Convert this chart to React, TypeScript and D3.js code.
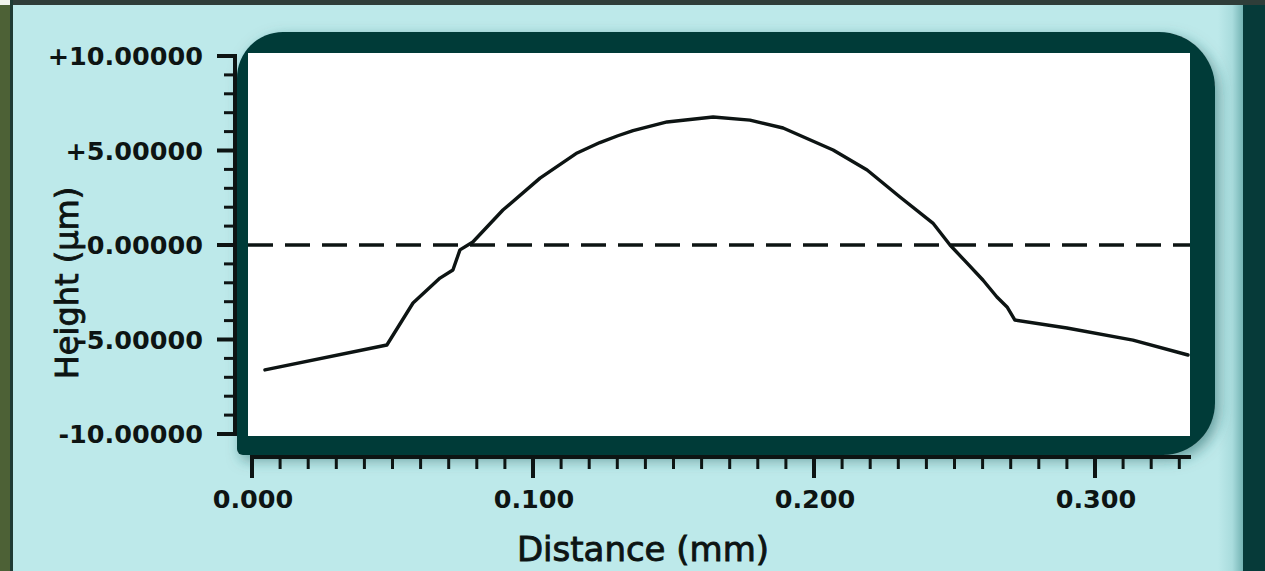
import * as d3 from 'd3'

// Profile trace (distance in mm, height in µm)
const distance = [
  0.0046, 0.0480, 0.0573, 0.0669, 0.0715, 0.0740, 0.0786, 0.0893, 0.1025, 0.1157,
  0.1238, 0.1302, 0.1356, 0.1477, 0.1641, 0.1772, 0.1890, 0.2068, 0.2189, 0.2306,
  0.2423, 0.2484, 0.2544, 0.2601, 0.2651, 0.2687, 0.2715, 0.2900, 0.3135, 0.3331,
]
const height = [
  -6.61, -5.29, -3.07, -1.75, -1.32, -0.26, 0.16, 1.85, 3.54, 4.87,
  5.42, 5.78, 6.05, 6.51, 6.77, 6.61, 6.19, 5.03, 3.97, 2.54,
  1.16, 0.00, -0.95, -1.85, -2.75, -3.28, -3.97, -4.39, -5.03, -5.82,
]

const yTicks = [10, 5, 0, -5, -10]
const yTickLabels = ['+10.00000', '+5.00000', '0.00000', '-5.00000', '-10.00000']
const xTicks = [0, 0.1, 0.2, 0.3]
const xTickLabels = ['0.000', '0.100', '0.200', '0.300']
const xTitle = 'Distance (mm)'
const yTitle = 'Height (µm)'

const W = 1265
const H = 571
const BG = '#bde9ea'
const DARK = '#063a39'
const INK = '#0d1413'
const FONT = 'DejaVu Sans, Verdana, sans-serif'

// plot box (white area) and frame
const PLOT = { left: 248, top: 53, right: 1190, bottom: 436 }
const FRAME = { left: 237, top: 32, right: 1215, bottom: 455 }

function framePath(x0: number, y0: number, x1: number, y1: number) {
  const rTL = 46, rTR = 56, rBR = 52, rBL = 6
  const p = d3.path()
  p.moveTo(x0 + rTL, y0)
  p.lineTo(x1 - rTR, y0)
  p.arcTo(x1, y0, x1, y0 + rTR, rTR)
  p.lineTo(x1, y1 - rBR)
  p.arcTo(x1, y1, x1 - rBR, y1, rBR)
  p.lineTo(x0 + rBL, y1)
  p.arcTo(x0, y1, x0, y1 - rBL, rBL)
  p.lineTo(x0, y0 + rTL)
  p.arcTo(x0, y0, x0 + rTL, y0, rTL)
  p.closePath()
  return p.toString()
}

export default function App() {
  const x = d3.scaleLinear().domain([0, 0.3]).range([252, 1095])
  const y = d3.scaleLinear().domain([-10, 10]).range([434, 56])

  const xAxisY = 457
  const yAxisX = 235

  const xMinor = d3.range(0, 0.3305, 0.01)
  const yMinor = d3.range(-10, 10.001, 1)

  const line = d3.line<number>()
    .x((_, i) => x(distance[i]))
    .y(d => y(d))

  return (
    <div style={{ position: 'absolute', left: 0, top: 0, width: W, height: H }}>
      <svg width={W} height={H} style={{ display: 'block' }}>
        <defs>
          <filter id="frame-shadow" x="-10%" y="-20%" width="120%" height="140%">
            <feDropShadow dx={4} dy={5} stdDeviation={7} floodColor="#1d5e60" floodOpacity={0.55} />
          </filter>
          <linearGradient id="right-fade" x1="0%" y1="0%" x2="100%" y2="0%">
            <stop offset="0%" stopColor={BG} />
            <stop offset="55%" stopColor="#a9dcdd" />
            <stop offset="100%" stopColor="#6fb0b0" />
          </linearGradient>
          <clipPath id="plot-clip">
            <rect x={PLOT.left} y={PLOT.top} width={PLOT.right - PLOT.left} height={PLOT.bottom - PLOT.top} />
          </clipPath>
        </defs>

        {/* background and window edges */}
        <rect x={0} y={0} width={W} height={H} fill={BG} />
        <rect x={1218} y={0} width={26} height={H} fill="url(#right-fade)" />
        <rect x={1243} y={0} width={22} height={H} fill={DARK} />
        <rect x={0} y={0} width={W} height={5} fill="#2f3d39" />
        <rect x={0} y={0} width={10} height={H} fill="#4d6136" />
        <rect x={10} y={0} width={3} height={H} fill="#1f3b34" />
        <rect x={0} y={0} width={10} height={5} fill="#f2f4ee" />

        {/* frame and plot box */}
        <path d={framePath(FRAME.left, FRAME.top, FRAME.right, FRAME.bottom)} fill={DARK} filter="url(#frame-shadow)" />
        <rect x={PLOT.left} y={PLOT.top} width={PLOT.right - PLOT.left} height={PLOT.bottom - PLOT.top} fill="#ffffff" />

        <g clipPath="url(#plot-clip)">
          {/* zero reference */}
          <line x1={PLOT.left} x2={PLOT.right} y1={y(0)} y2={y(0)}
            stroke={INK} strokeWidth={3.5} strokeDasharray="25,12" />
          {/* profile */}
          <path d={line(height) || ''} fill="none" stroke={INK} strokeWidth={3.4}
            strokeLinejoin="round" strokeLinecap="round" />
        </g>

        {/* y axis */}
        <line x1={yAxisX} x2={yAxisX} y1={y(10) - 2} y2={y(-10) + 2} stroke={INK} strokeWidth={4} />
        {yMinor.map(v => (
          <line key={'ym' + v} x1={yTicks.includes(v) ? 217 : 224} x2={yAxisX}
            y1={y(v)} y2={y(v)} stroke={INK} strokeWidth={yTicks.includes(v) ? 4 : 3} />
        ))}
        {yTicks.map((v, i) => (
          <text key={'yl' + v} x={203} y={y(v)} dy="0.36em" textAnchor="end"
            fontFamily={FONT} fontWeight="bold" fontSize={25.5} fill={INK}>{yTickLabels[i]}</text>
        ))}

        {/* x axis */}
        <line x1={x(0) - 2} x2={1191} y1={xAxisY} y2={xAxisY} stroke={INK} strokeWidth={4} />
        {xMinor.map((v, i) => {
          const major = i % 10 === 0
          return (
            <line key={'xm' + i} x1={x(v)} x2={x(v)} y1={xAxisY}
              y2={major ? 478 : 469} stroke={INK} strokeWidth={major ? 4 : 3} />
          )
        })}
        {xTicks.map((v, i) => (
          <text key={'xl' + v} x={x(v) + 1} y={508} textAnchor="middle"
            fontFamily={FONT} fontWeight="bold" fontSize={25.5} fill={INK}>{xTickLabels[i]}</text>
        ))}

        {/* titles, drawn over the tick labels as in the original */}
        <text x={643} y={561} textAnchor="middle" fontFamily={FONT} fontSize={34}
          fill={INK} stroke={INK} strokeWidth={0.9}>{xTitle}</text>
        <text transform="translate(78,283) rotate(-90)" textAnchor="middle"
          fontFamily={FONT} fontSize={32} fill={INK} stroke={INK} strokeWidth={0.9}>{yTitle}</text>
      </svg>
    </div>
  )
}
